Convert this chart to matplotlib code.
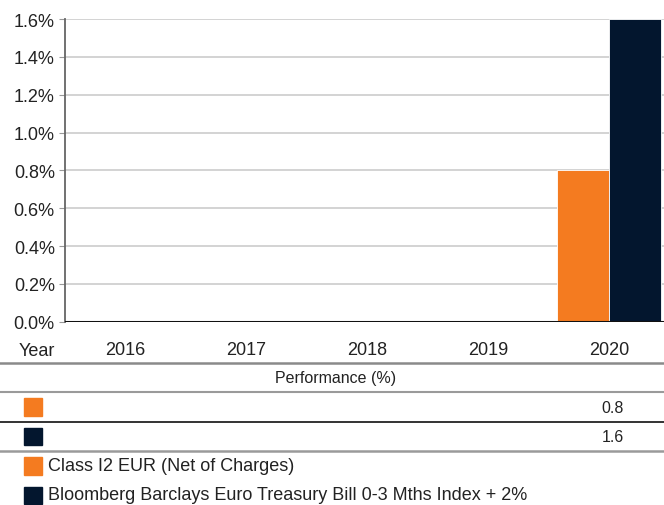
import numpy as np
import matplotlib
matplotlib.use("Agg")
import matplotlib.pyplot as plt
from matplotlib.patches import Rectangle
from matplotlib.lines import Line2D

# chart data
years = ["2016", "2017", "2018", "2019", "2020"]
fund = [np.nan, np.nan, np.nan, np.nan, 0.8]
index = [np.nan, np.nan, np.nan, np.nan, 1.6]
fund_name = "Class I2 EUR (Net of Charges)"
index_name = "Bloomberg Barclays Euro Treasury Bill 0-3 Mths Index + 2%"
fund_row = "0.8"
index_row = "1.6"

orange = "#F47B20"
navy = "#03162E"
text_col = "#222222"

plt.rcParams["font.family"] = ["Liberation Sans", "DejaVu Sans"]

W, H = 664, 506
fig = plt.figure(figsize=(W / 100, H / 100), dpi=100)


def fx(px):
    return px / W


def fy(py):
    return 1 - py / H


# main bar chart (axes runs a bit past the right edge, like the original)
left, right, top, bottom = 64.5, 669.5, 20, 322.7
ax = fig.add_axes([fx(left), fy(bottom), fx(right - left), (bottom - top) / H])

x = np.arange(len(years))
w = 0.43
ax.bar(x - w / 2, fund, w, color=orange, edgecolor="white", linewidth=0.6, zorder=3)
ax.bar(x + w / 2, index, w, color=navy, edgecolor="white", linewidth=0.6, zorder=3)

ax.set_xlim(-0.5, len(years) - 0.5)
ax.set_ylim(0, 1.6)
ax.set_yticks(np.arange(0, 1.61, 0.2))
ax.set_yticklabels([f"{v:.1f}%" for v in np.arange(0, 1.61, 0.2)])
ax.set_xticks(x)
ax.set_xticklabels(years)

ax.grid(axis="y", color="#c8c8c8", linewidth=1.1, zorder=0)
ax.set_axisbelow(True)
for s in ["top", "right", "bottom"]:
    ax.spines[s].set_visible(False)
ax.spines["left"].set_color("#666666")
ax.spines["left"].set_linewidth(1.3)
ax.axhline(0, color="#111111", linewidth=2.2, zorder=4)

ax.tick_params(axis="y", length=4, color="#999999", pad=3, labelsize=13,
               labelcolor=text_col)
ax.tick_params(axis="x", length=0, pad=14, labelsize=13, labelcolor=text_col)

# table below the chart
fig.text(fx(55), fy(356), "Year", ha="right", va="baseline", fontsize=13, color=text_col)


def hline(py, color, lw):
    fig.add_artist(Line2D([0, 1], [fy(py), fy(py)], color=color, linewidth=lw,
                          transform=fig.transFigure))


hline(363.5, "#8a8a8a", 1.8)
hline(392.5, "#9a9a9a", 1.5)
hline(422.5, "#333333", 1.4)
hline(451.5, "#9a9a9a", 1.8)

fig.text(fx(336), fy(378.5), "Performance (%)", ha="center", va="center",
         fontsize=11.5, color=text_col)


def square(px, py, color):
    fig.add_artist(Rectangle((fx(px), fy(py + 17.5)), fx(18), 17.5 / H,
                             color=color, transform=fig.transFigure))


square(24, 399, orange)
square(24, 428.5, navy)
fig.text(fx(613), fy(409), fund_row, ha="center", va="center",
         fontsize=11.5, color=text_col)
fig.text(fx(613), fy(438), index_row, ha="center", va="center",
         fontsize=11.5, color=text_col)

# legend
square(24, 458, orange)
square(24, 487.5, navy)
fig.text(fx(48), fy(466.5), fund_name, ha="left", va="center",
         fontsize=13, color=text_col)
fig.text(fx(48), fy(496), index_name, ha="left", va="center",
         fontsize=13, color=text_col)

fig.savefig("out.png", dpi=100)
